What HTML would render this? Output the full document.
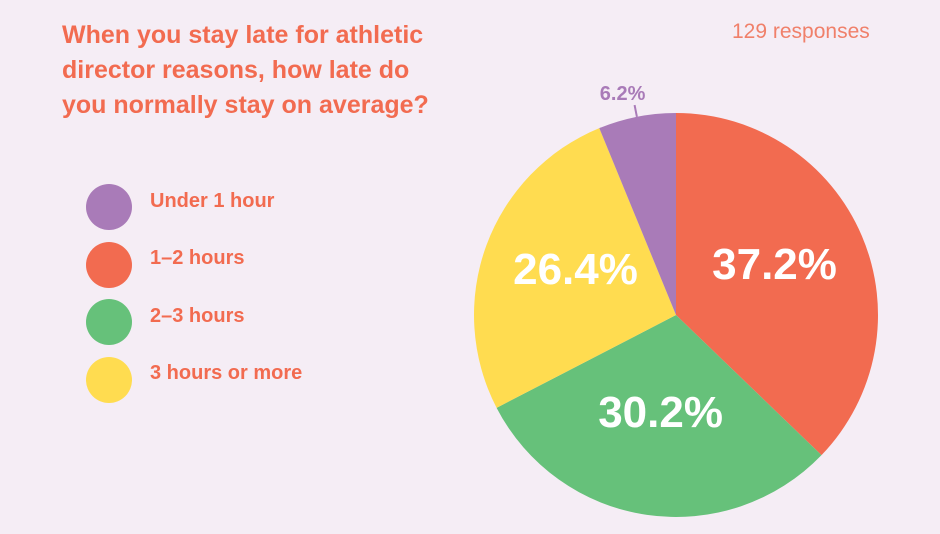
<!DOCTYPE html>
<html><head><meta charset="utf-8">
<style>
body{margin:0;width:940px;height:534px;background:#f5edf5;font-family:"Liberation Sans",sans-serif;overflow:hidden;position:relative}
.title{position:absolute;left:62px;top:18px;font-size:25px;font-weight:bold;color:#f26b50;line-height:35px;width:390px}
.resp{position:absolute;left:732px;top:20px;font-size:21px;color:#f0806a}
.leg{position:absolute;left:86px;display:flex;align-items:center}
.leg span.d{width:46px;height:46px;border-radius:50%;display:inline-block}
.leg span.t{margin-left:18px;font-size:20px;font-weight:bold;color:#f26b50;position:relative;top:-6px}
</style></head><body>
<div class="title">When you stay late for athletic director reasons, how late do you normally stay on average?</div>
<div class="resp">129 responses</div>
<div id="legend"></div>
<svg id="pie" width="940" height="534" style="position:absolute;left:0;top:0"></svg>
<script>
const categories=["1–2 hours","2–3 hours","3 hours or more","Under 1 hour"];
const values=[37.2,30.2,26.4,6.2];
const colors=["#f26b50","#66c17a","#ffdc50","#a97bb8"];
const legendOrder=["Under 1 hour","1–2 hours","2–3 hours","3 hours or more"];
const NS="http://www.w3.org/2000/svg";
const svg=document.getElementById('pie');
const cx=676,cy=315,R=202;
const total=values.reduce((a,b)=>a+b,0);
function pt(f,r){const a=f*2*Math.PI;return [cx+r*Math.sin(a),cy-r*Math.cos(a)];}
let acc=0;
values.forEach((v,i)=>{
  const f0=acc/total,f1=(acc+v)/total;acc+=v;
  const [x0,y0]=pt(f0,R),[x1,y1]=pt(f1,R);
  const p=document.createElementNS(NS,'path');
  p.setAttribute('d',`M${cx},${cy}L${x0},${y0}A${R},${R} 0 ${f1-f0>0.5?1:0} 1 ${x1},${y1}Z`);
  p.setAttribute('fill',colors[i]);
  
  
  svg.appendChild(p);
  const fm=(f0+f1)/2;
  const t=document.createElementNS(NS,'text');
  t.setAttribute('font-family','Liberation Sans, sans-serif');
  t.setAttribute('font-weight','bold');
  t.setAttribute('text-anchor','middle');
  if(v/total>0.1){
    const [lx,ly]=pt(fm,R*0.53);
    t.setAttribute('x',lx);t.setAttribute('y',ly+6);
    t.setAttribute('font-size','44');t.setAttribute('fill','#fff');
  } else {
    const [ax,ay]=pt(fm,R),[bx,by]=pt(fm,R+12);
    const l=document.createElementNS(NS,'line');
    l.setAttribute('x1',ax);l.setAttribute('y1',ay);l.setAttribute('x2',bx);l.setAttribute('y2',by);
    l.setAttribute('stroke',colors[i]);l.setAttribute('stroke-width','2');
    
    
    svg.appendChild(l);
    t.setAttribute('x',bx-12);t.setAttribute('y',by-5);
    t.setAttribute('font-size','20');t.setAttribute('fill',colors[i]);
  }
  t.textContent=v.toFixed(1)+'%';
  
  
  svg.appendChild(t);
});
const leg=document.getElementById('legend');
legendOrder.forEach((c,k)=>{
  const i=categories.indexOf(c);
  const d=document.createElement('div');
  d.className='leg';d.style.top=(184+k*57.5)+'px';
  
  
  d.innerHTML=`<span class="d" style="background:${colors[i]}"></span><span class="t">${c}</span>`;
  leg.appendChild(d);
});
</script>
</body></html>
